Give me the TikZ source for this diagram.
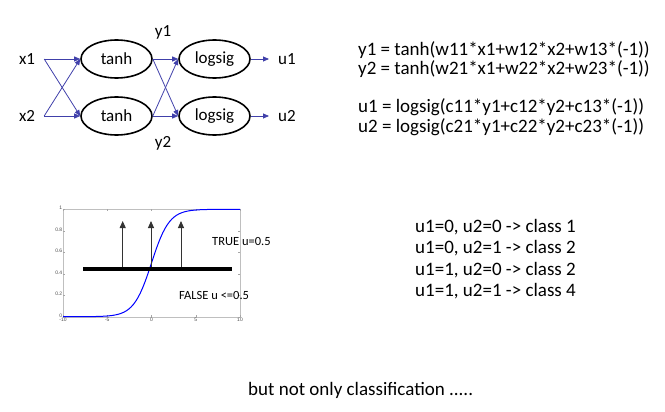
\documentclass[tikz,border=0pt]{standalone}
\usepackage{fontspec}
\setmainfont{Carlito}
\newfontfamily\tickfont{Liberation Sans}
\usetikzlibrary{arrows.meta,shapes.geometric}
\definecolor{netblue}{RGB}{64,64,170}

\begin{document}
\begin{tikzpicture}[x=1pt,y=-1pt,>={Triangle[length=6pt,width=5pt]},
    neuron/.style={draw,ellipse,line width=1.6pt,minimum width=71pt,minimum height=38pt,inner sep=0pt,font=\fontsize{17}{17}\selectfont},
    io/.style={inner sep=9pt,font=\fontsize{17}{17}\selectfont},
    wire/.style={->,draw=netblue,line width=0.8pt},
    eq/.style={anchor=base west,inner sep=0pt,font=\fontsize{19}{20}\selectfont},
    tick/.style={inner sep=0.6pt,text=black!70,font=\tickfont\fontsize{5}{5}\selectfont}]
  \useasboundingbox (0,0) rectangle (665,412);
  % network
  \node[io] (x1) at (27,59) {x1};
  \node[io] (x2) at (27,116) {x2};
  \node[neuron] (t1) at (116.5,59) {tanh};
  \node[neuron] (t2) at (116.5,116) {tanh};
  \node[neuron] (l1) at (214.5,59) {logsig};
  \node[neuron] (l2) at (214.5,116) {logsig};
  \node[io] (u1) at (287,59) {u1};
  \node[io] (u2) at (287,116) {u2};
  \node[io,anchor=base,inner sep=0pt] (y1) at (163,37) {y1};
  \node[io,anchor=base,inner sep=0pt] (y2) at (163,148) {y2};
  \foreach \a in {x1,x2}
    \foreach \b in {t1,t2}
      \draw[wire] (\a.east) -- (\b.west);
  \foreach \a in {t1,t2}
    \foreach \b in {l1,l2}
      \draw[wire] (\a.east) -- (\b.west);
  \draw[wire] (l1) -- (u1);
  \draw[wire] (l2) -- (u2);
  % equations
  \node[eq] (ey1) at (358,56) {y1 = tanh(w11*x1+w12*x2+w13*(-1))};
  \node[eq] (ey2) at (358,75) {y2 = tanh(w21*x1+w22*x2+w23*(-1))};
  \node[eq] (eu1) at (358,113) {u1 = logsig(c11*y1+c12*y2+c13*(-1))};
  \node[eq] (eu2) at (358,132) {u2 = logsig(c21*y1+c22*y2+c23*(-1))};
  \foreach \t [count=\i] in {{u1=0, u2=0 -> class 1},{u1=0, u2=1 -> class 2},
      {u1=1, u2=0 -> class 2},{u1=1, u2=1 -> class 4}}
    \node[eq] (cl\i) at (415,210.5+21.5*\i) {\t};
  % sigmoid panel
  \draw[black!25] (63,209) rectangle (240,316.7);
  \foreach \v [count=\i] in {-10,-5,0,5,10}{
    \draw[black!35] ({151.5+8.85*\v},316.7) -- ++(0,-2) ({151.5+8.85*\v},209) -- ++(0,2);
    \node[tick,anchor=north,inner sep=1.2pt] (xt\i) at ({151.5+8.85*\v},316.7) {\v};
  }
  \foreach \v [count=\i] in {0,0.2,0.4,0.6,0.8,1}{
    \draw[black!35] (63,{316.7-107.4*\v}) -- ++(2,0) (240,{316.7-107.4*\v}) -- ++(-2,0);
    \node[tick,anchor=east] (yt\i) at (63,{315.6-107.4*\v}) {\v};
  }
  \draw[blue,line width=1pt] plot[domain=-10:0,samples=40] ({151.5+8.85*\x},{316.7-107.4*exp(\x)/(1+exp(\x))})
    -- plot[domain=0:10,samples=40] ({151.5+8.85*\x},{316.7-107.4/(1+exp(-\x))});
  \draw[line width=4pt] (83,268.5) -- (232,268.5);
  \foreach \ax in {122.7,151,181}
    \draw[-{Triangle[length=7pt,width=6pt]},line width=0.9pt,black!80] (\ax,266.5) -- (\ax,221);
  \node[anchor=base west,inner sep=0pt,font=\fontsize{12.5}{13}\selectfont] (true) at (212,245) {TRUE u=0.5};
  \node[anchor=base west,inner sep=0pt,font=\fontsize{12.5}{13}\selectfont] (false) at (179,299) {FALSE u <=0.5};
  \node[eq] (note) at (248,395) {but not only classification .....};
\end{tikzpicture}
\end{document}
